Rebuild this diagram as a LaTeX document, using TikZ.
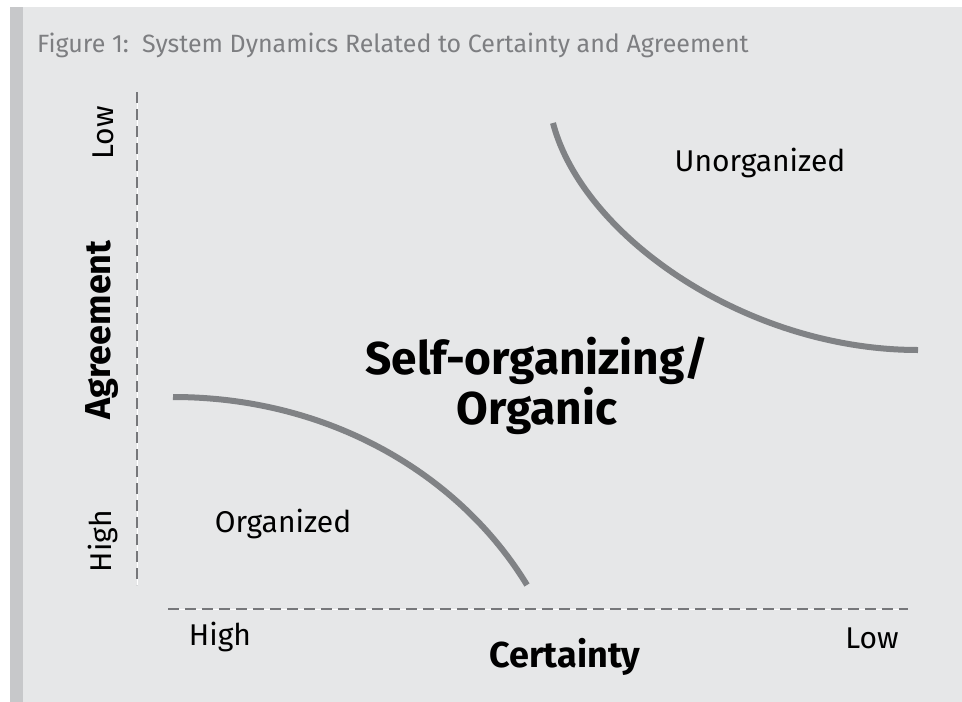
\documentclass[tikz,border=0pt]{standalone}
\usepackage{fontspec}
\setmainfont{Fira Sans}
\begin{document}
\begin{tikzpicture}[x=1pt,y=-1pt,
  lbl/.style={inner sep=0pt, text=black, font=\fontsize{30}{34}\selectfont},
  blbl/.style={inner sep=0pt, text=black, font=\fontsize{36}{40}\bfseries\selectfont},
  axisline/.style={draw=dashgray, line width=2.6pt, dash pattern=on 10.5pt off 6.5pt},
  axisunder/.style={draw=white, line width=0.8pt},
  curveline/.style={draw=linegray, line width=6pt}]
\definecolor{bggray}{HTML}{E6E7E8}
\definecolor{stripgray}{HTML}{C7C8CA}
\definecolor{linegray}{HTML}{808285}
\definecolor{dashgray}{HTML}{76777A}
\definecolor{titlegray}{HTML}{7D7E81}
\useasboundingbox (0,0) rectangle (962,702);
\fill[white] (0,0) rectangle (962,702);
\fill[bggray] (10,7) rectangle (962,702);
\fill[stripgray] (10,7) rectangle (23,702);
\node[anchor=base west, inner sep=0pt, text=titlegray, font=\fontsize{25}{29}\selectfont] (title) at (37,52) {Figure 1:\ \ System Dynamics Related to Certainty and Agreement};
% axes
\coordinate (vtop) at (137,92);
\coordinate (vbot) at (137,585);
\coordinate (hl) at (168,609);
\coordinate (hr) at (908,609);
\draw[axisunder] (vtop) -- (vbot);
\draw[axisunder] (hl) -- (hr);
\draw[axisline] (vtop) -- (vbot);
\draw[axisline] (hl) -- (hr);
% axis labels
\node[lbl, rotate=90] (alow) at (103,133) {Low};
\node[lbl, rotate=90] (ahigh) at (103,541) {High};
\node[blbl, rotate=90] (agree) at (102,330) {Agreement};
\node[lbl] (chigh) at (220,637) {High};
\node[lbl] (clow) at (872,638) {Low};
\node[blbl] (cert) at (565,657) {Certainty};
% curves
\coordinate (c1a) at (173,397);
\coordinate (c1b) at (527,585);
\coordinate (c2a) at (553,123);
\coordinate (c2b) at (918,350);
\draw[curveline] (c1a) .. controls (330,397) and (460,475) .. (c1b);
\draw[curveline] (c2a) .. controls (582,235) and (745,350) .. (c2b);
% regions
\node[lbl] (org) at (283,524) {Organized};
\node[lbl] (unorg) at (760,163) {Unorganized};
\node[inner sep=0pt, align=center, text=black, font=\fontsize{46}{50}\bfseries\selectfont] (self) at (537,386) {Self-organizing/\\Organic};
\end{tikzpicture}
\end{document}
